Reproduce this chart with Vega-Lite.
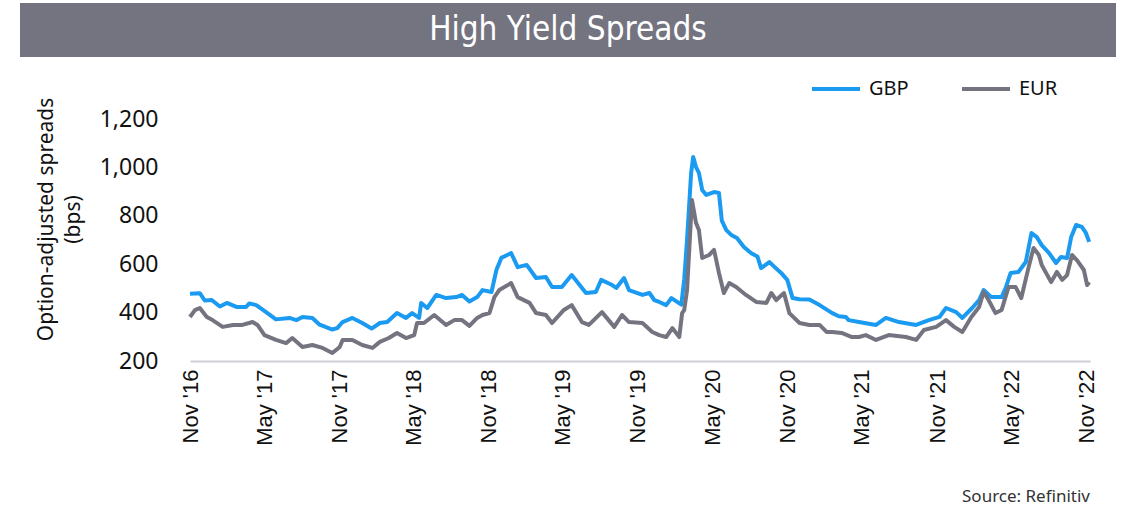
{
  "$schema": "https://vega.github.io/schema/vega-lite/v6.json",
  "padding": {"left": 20, "top": 3, "right": 8, "bottom": 4},
  "background": "white",
  "config": {"view": {"stroke": null}, "font": "Liberation Sans"},
  "spacing": 62,
  "bounds": "flush",
  "vconcat": [
    {
      "width": 1096,
      "height": 54,
      "data": {"values": [{"t": "High Yield Spreads"}]},
      "encoding": {
        "x": {"field": "t", "type": "nominal", "axis": null, "scale": {"paddingInner": 0, "paddingOuter": 0}},
        "y": {"field": "t", "type": "nominal", "axis": null, "scale": {"paddingInner": 0, "paddingOuter": 0}}
      },
      "layer": [
        {"mark": {"type": "rect", "color": "#747480"}},
        {"mark": {"type": "text", "color": "white", "font": "DejaVu Sans Condensed", "fontSize": 33, "baseline": "middle", "align": "center"}, "encoding": {"text": {"field": "t"}}}
      ]
    },
    {
      "spacing": 0,
      "bounds": "flush",
      "hconcat": [
        {"width": 170, "height": 242, "data": {"values": []}, "mark": "point"},
        {
          "width": 900,
          "height": 242,
          "title": {"text": "Source: Refinitiv", "orient": "bottom", "anchor": "end", "frame": "group", "fontSize": 17, "fontWeight": "normal", "font": "Noto Sans", "color": "#333333", "offset": 44},
          "data": {"values": [
            {"d":"2016-11-01","s":"GBP","v":478},{"d":"2016-11-25","s":"GBP","v":480},{"d":"2016-12-07","s":"GBP","v":450},{"d":"2016-12-24","s":"GBP","v":452},{"d":"2017-01-13","s":"GBP","v":425},{"d":"2017-01-30","s":"GBP","v":440},{"d":"2017-02-24","s":"GBP","v":423},{"d":"2017-03-18","s":"GBP","v":423},{"d":"2017-03-26","s":"GBP","v":438},{"d":"2017-04-12","s":"GBP","v":431},{"d":"2017-05-06","s":"GBP","v":402},{"d":"2017-05-30","s":"GBP","v":372},{"d":"2017-07-02","s":"GBP","v":378},{"d":"2017-07-19","s":"GBP","v":369},{"d":"2017-08-03","s":"GBP","v":382},{"d":"2017-08-27","s":"GBP","v":378},{"d":"2017-09-14","s":"GBP","v":350},{"d":"2017-10-15","s":"GBP","v":330},{"d":"2017-10-27","s":"GBP","v":336},{"d":"2017-11-09","s":"GBP","v":361},{"d":"2017-12-03","s":"GBP","v":378},{"d":"2017-12-27","s":"GBP","v":357},{"d":"2018-01-19","s":"GBP","v":334},{"d":"2018-02-08","s":"GBP","v":357},{"d":"2018-02-26","s":"GBP","v":361},{"d":"2018-03-22","s":"GBP","v":398},{"d":"2018-04-13","s":"GBP","v":378},{"d":"2018-04-28","s":"GBP","v":398},{"d":"2018-05-15","s":"GBP","v":378},{"d":"2018-05-20","s":"GBP","v":440},{"d":"2018-06-04","s":"GBP","v":419},{"d":"2018-06-26","s":"GBP","v":473},{"d":"2018-07-20","s":"GBP","v":460},{"d":"2018-08-14","s":"GBP","v":464},{"d":"2018-08-28","s":"GBP","v":473},{"d":"2018-09-15","s":"GBP","v":446},{"d":"2018-10-04","s":"GBP","v":464},{"d":"2018-10-17","s":"GBP","v":493},{"d":"2018-11-08","s":"GBP","v":485},{"d":"2018-11-20","s":"GBP","v":576},{"d":"2018-12-02","s":"GBP","v":626},{"d":"2018-12-26","s":"GBP","v":646},{"d":"2019-01-11","s":"GBP","v":588},{"d":"2019-02-02","s":"GBP","v":597},{"d":"2019-02-25","s":"GBP","v":543},{"d":"2019-03-21","s":"GBP","v":547},{"d":"2019-04-05","s":"GBP","v":506},{"d":"2019-04-29","s":"GBP","v":506},{"d":"2019-05-23","s":"GBP","v":555},{"d":"2019-06-27","s":"GBP","v":481},{"d":"2019-07-21","s":"GBP","v":485},{"d":"2019-08-03","s":"GBP","v":535},{"d":"2019-08-30","s":"GBP","v":514},{"d":"2019-09-09","s":"GBP","v":502},{"d":"2019-09-28","s":"GBP","v":543},{"d":"2019-10-10","s":"GBP","v":493},{"d":"2019-11-12","s":"GBP","v":473},{"d":"2019-11-29","s":"GBP","v":481},{"d":"2019-12-11","s":"GBP","v":452},{"d":"2019-12-23","s":"GBP","v":444},{"d":"2020-01-09","s":"GBP","v":431},{"d":"2020-01-22","s":"GBP","v":460},{"d":"2020-02-15","s":"GBP","v":433},{"d":"2020-02-22","s":"GBP","v":535},{"d":"2020-02-29","s":"GBP","v":700},{"d":"2020-03-10","s":"GBP","v":977},{"d":"2020-03-15","s":"GBP","v":1043},{"d":"2020-03-22","s":"GBP","v":1001},{"d":"2020-03-29","s":"GBP","v":977},{"d":"2020-04-06","s":"GBP","v":907},{"d":"2020-04-16","s":"GBP","v":886},{"d":"2020-05-05","s":"GBP","v":898},{"d":"2020-05-17","s":"GBP","v":894},{"d":"2020-05-24","s":"GBP","v":780},{"d":"2020-06-04","s":"GBP","v":741},{"d":"2020-06-16","s":"GBP","v":721},{"d":"2020-06-30","s":"GBP","v":708},{"d":"2020-07-17","s":"GBP","v":671},{"d":"2020-08-04","s":"GBP","v":645},{"d":"2020-08-19","s":"GBP","v":632},{"d":"2020-08-28","s":"GBP","v":584},{"d":"2020-09-17","s":"GBP","v":609},{"d":"2020-09-29","s":"GBP","v":590},{"d":"2020-10-16","s":"GBP","v":564},{"d":"2020-10-31","s":"GBP","v":535},{"d":"2020-11-13","s":"GBP","v":460},{"d":"2020-11-30","s":"GBP","v":455},{"d":"2020-12-24","s":"GBP","v":454},{"d":"2021-01-18","s":"GBP","v":431},{"d":"2021-02-18","s":"GBP","v":398},{"d":"2021-03-06","s":"GBP","v":385},{"d":"2021-03-23","s":"GBP","v":382},{"d":"2021-03-30","s":"GBP","v":369},{"d":"2021-04-24","s":"GBP","v":361},{"d":"2021-06-05","s":"GBP","v":349},{"d":"2021-06-29","s":"GBP","v":378},{"d":"2021-07-31","s":"GBP","v":361},{"d":"2021-09-11","s":"GBP","v":349},{"d":"2021-10-12","s":"GBP","v":369},{"d":"2021-11-07","s":"GBP","v":382},{"d":"2021-11-23","s":"GBP","v":419},{"d":"2021-12-18","s":"GBP","v":402},{"d":"2022-01-02","s":"GBP","v":378},{"d":"2022-01-26","s":"GBP","v":419},{"d":"2022-02-12","s":"GBP","v":452},{"d":"2022-02-23","s":"GBP","v":493},{"d":"2022-03-14","s":"GBP","v":464},{"d":"2022-04-08","s":"GBP","v":464},{"d":"2022-04-18","s":"GBP","v":502},{"d":"2022-04-30","s":"GBP","v":564},{"d":"2022-05-19","s":"GBP","v":568},{"d":"2022-06-06","s":"GBP","v":609},{"d":"2022-06-20","s":"GBP","v":729},{"d":"2022-07-03","s":"GBP","v":712},{"d":"2022-07-15","s":"GBP","v":679},{"d":"2022-08-02","s":"GBP","v":646},{"d":"2022-08-19","s":"GBP","v":605},{"d":"2022-08-31","s":"GBP","v":630},{"d":"2022-09-15","s":"GBP","v":626},{"d":"2022-09-25","s":"GBP","v":712},{"d":"2022-10-07","s":"GBP","v":762},{"d":"2022-10-21","s":"GBP","v":754},{"d":"2022-10-31","s":"GBP","v":729},{"d":"2022-11-08","s":"GBP","v":692},
            {"d":"2016-11-01","s":"EUR","v":382},{"d":"2016-11-13","s":"EUR","v":410},{"d":"2016-11-25","s":"EUR","v":419},{"d":"2016-12-12","s":"EUR","v":382},{"d":"2016-12-26","s":"EUR","v":369},{"d":"2017-01-20","s":"EUR","v":341},{"d":"2017-02-14","s":"EUR","v":349},{"d":"2017-03-09","s":"EUR","v":349},{"d":"2017-04-03","s":"EUR","v":361},{"d":"2017-04-15","s":"EUR","v":349},{"d":"2017-05-02","s":"EUR","v":307},{"d":"2017-05-30","s":"EUR","v":287},{"d":"2017-06-24","s":"EUR","v":274},{"d":"2017-07-09","s":"EUR","v":295},{"d":"2017-08-03","s":"EUR","v":258},{"d":"2017-08-27","s":"EUR","v":266},{"d":"2017-09-21","s":"EUR","v":254},{"d":"2017-10-15","s":"EUR","v":233},{"d":"2017-11-02","s":"EUR","v":258},{"d":"2017-11-09","s":"EUR","v":287},{"d":"2017-12-03","s":"EUR","v":287},{"d":"2017-12-27","s":"EUR","v":266},{"d":"2018-01-21","s":"EUR","v":254},{"d":"2018-02-08","s":"EUR","v":279},{"d":"2018-03-02","s":"EUR","v":295},{"d":"2018-03-22","s":"EUR","v":316},{"d":"2018-04-13","s":"EUR","v":295},{"d":"2018-05-03","s":"EUR","v":307},{"d":"2018-05-10","s":"EUR","v":357},{"d":"2018-05-27","s":"EUR","v":357},{"d":"2018-06-21","s":"EUR","v":390},{"d":"2018-07-20","s":"EUR","v":349},{"d":"2018-08-09","s":"EUR","v":369},{"d":"2018-08-28","s":"EUR","v":369},{"d":"2018-09-15","s":"EUR","v":345},{"d":"2018-10-04","s":"EUR","v":378},{"d":"2018-10-17","s":"EUR","v":390},{"d":"2018-11-03","s":"EUR","v":398},{"d":"2018-11-15","s":"EUR","v":464},{"d":"2018-11-27","s":"EUR","v":493},{"d":"2018-12-26","s":"EUR","v":522},{"d":"2019-01-11","s":"EUR","v":464},{"d":"2019-02-09","s":"EUR","v":440},{"d":"2019-02-25","s":"EUR","v":398},{"d":"2019-03-21","s":"EUR","v":390},{"d":"2019-04-05","s":"EUR","v":357},{"d":"2019-05-04","s":"EUR","v":411},{"d":"2019-05-23","s":"EUR","v":431},{"d":"2019-06-17","s":"EUR","v":361},{"d":"2019-07-04","s":"EUR","v":349},{"d":"2019-08-05","s":"EUR","v":402},{"d":"2019-09-04","s":"EUR","v":341},{"d":"2019-09-23","s":"EUR","v":390},{"d":"2019-10-10","s":"EUR","v":361},{"d":"2019-11-12","s":"EUR","v":357},{"d":"2019-12-06","s":"EUR","v":320},{"d":"2019-12-23","s":"EUR","v":307},{"d":"2020-01-09","s":"EUR","v":299},{"d":"2020-01-24","s":"EUR","v":336},{"d":"2020-02-10","s":"EUR","v":299},{"d":"2020-02-17","s":"EUR","v":398},{"d":"2020-02-22","s":"EUR","v":410},{"d":"2020-02-29","s":"EUR","v":493},{"d":"2020-03-12","s":"EUR","v":865},{"d":"2020-03-22","s":"EUR","v":770},{"d":"2020-03-29","s":"EUR","v":741},{"d":"2020-04-06","s":"EUR","v":626},{"d":"2020-04-23","s":"EUR","v":638},{"d":"2020-05-05","s":"EUR","v":659},{"d":"2020-05-17","s":"EUR","v":564},{"d":"2020-05-29","s":"EUR","v":481},{"d":"2020-06-11","s":"EUR","v":522},{"d":"2020-06-28","s":"EUR","v":506},{"d":"2020-07-22","s":"EUR","v":473},{"d":"2020-08-16","s":"EUR","v":444},{"d":"2020-09-10","s":"EUR","v":440},{"d":"2020-09-22","s":"EUR","v":481},{"d":"2020-10-04","s":"EUR","v":452},{"d":"2020-10-23","s":"EUR","v":481},{"d":"2020-11-05","s":"EUR","v":398},{"d":"2020-11-30","s":"EUR","v":357},{"d":"2020-12-24","s":"EUR","v":349},{"d":"2021-01-18","s":"EUR","v":349},{"d":"2021-02-04","s":"EUR","v":320},{"d":"2021-02-18","s":"EUR","v":320},{"d":"2021-03-13","s":"EUR","v":316},{"d":"2021-04-07","s":"EUR","v":299},{"d":"2021-04-24","s":"EUR","v":299},{"d":"2021-05-11","s":"EUR","v":307},{"d":"2021-06-05","s":"EUR","v":287},{"d":"2021-07-06","s":"EUR","v":307},{"d":"2021-08-17","s":"EUR","v":299},{"d":"2021-09-11","s":"EUR","v":287},{"d":"2021-09-30","s":"EUR","v":328},{"d":"2021-10-30","s":"EUR","v":341},{"d":"2021-11-23","s":"EUR","v":369},{"d":"2021-12-13","s":"EUR","v":341},{"d":"2022-01-02","s":"EUR","v":320},{"d":"2022-01-24","s":"EUR","v":382},{"d":"2022-02-12","s":"EUR","v":423},{"d":"2022-02-23","s":"EUR","v":485},{"d":"2022-03-07","s":"EUR","v":452},{"d":"2022-03-24","s":"EUR","v":398},{"d":"2022-04-08","s":"EUR","v":411},{"d":"2022-04-25","s":"EUR","v":506},{"d":"2022-05-12","s":"EUR","v":506},{"d":"2022-05-26","s":"EUR","v":460},{"d":"2022-06-13","s":"EUR","v":588},{"d":"2022-06-25","s":"EUR","v":667},{"d":"2022-07-08","s":"EUR","v":638},{"d":"2022-07-15","s":"EUR","v":597},{"d":"2022-08-07","s":"EUR","v":526},{"d":"2022-08-21","s":"EUR","v":568},{"d":"2022-09-03","s":"EUR","v":535},{"d":"2022-09-15","s":"EUR","v":555},{"d":"2022-09-27","s":"EUR","v":638},{"d":"2022-10-09","s":"EUR","v":617},{"d":"2022-10-26","s":"EUR","v":576},{"d":"2022-11-03","s":"EUR","v":514},{"d":"2022-11-08","s":"EUR","v":526}
          ]},
          "mark": {"type": "line", "strokeWidth": 4, "strokeJoin": "round"},
          "encoding": {
            "x": {
              "field": "d", "type": "temporal",
              "scale": {"domain": ["2016-11-01", "2022-11-10"]},
              "axis": {
                "values": [
                  {"year": 2016, "month": 11, "date": 1}, {"year": 2017, "month": 5, "date": 1},
                  {"year": 2017, "month": 11, "date": 1}, {"year": 2018, "month": 5, "date": 1},
                  {"year": 2018, "month": 11, "date": 1}, {"year": 2019, "month": 5, "date": 1},
                  {"year": 2019, "month": 11, "date": 1}, {"year": 2020, "month": 5, "date": 1},
                  {"year": 2020, "month": 11, "date": 1}, {"year": 2021, "month": 5, "date": 1},
                  {"year": 2021, "month": 11, "date": 1}, {"year": 2022, "month": 5, "date": 1},
                  {"year": 2022, "month": 11, "date": 1}
                ],
                "format": "%b '%y",
                "labelAngle": -90,
                "labelFontSize": 22,
                "labelFont": "Liberation Sans",
                "labelColor": "#111111",
                "labelPadding": 8,
                "labelOverlap": false,
                "labelFlush": false,
                "ticks": false,
                "grid": false,
                "domainColor": "#CFCFD6",
                "domainWidth": 2,
                "title": null
              }
            },
            "y": {
              "field": "v", "type": "quantitative",
              "scale": {"domain": [200, 1200]},
              "axis": {
                "values": [200, 400, 600, 800, 1000, 1200],
                "format": ",.0f",
                "labelFontSize": 23,
                "labelFont": "Noto Sans",
                "labelColor": "#111111",
                "labelPadding": 32,
                "ticks": false,
                "domain": false,
                "grid": false,
                "title": ["Option-adjusted spreads", "(bps)"],
                "titleFontSize": 21,
                "titleFont": "Noto Sans",
                "titleFontWeight": "normal",
                "titleColor": "#111111",
                "titleLineHeight": 27,
                "titlePadding": 16,
                "titleY": 100
              }
            },
            "color": {
              "field": "s", "type": "nominal",
              "scale": {"domain": ["GBP", "EUR"], "range": ["#1A9AF0", "#747480"]},
              "legend": {
                "title": null,
                "orient": "none",
                "legendX": 790,
                "legendY": 60,
                "direction": "horizontal",
                "symbolType": "stroke",
                "symbolSize": 2304,
                "symbolStrokeWidth": 4,
                "labelFontSize": 20,
                "labelFont": "Noto Sans",
                "labelColor": "#111111",
                "labelOffset": 7,
                "columnPadding": 45,
                "padding": 0
              }
            }
          }
        }
      ]
    }
  ]
}
